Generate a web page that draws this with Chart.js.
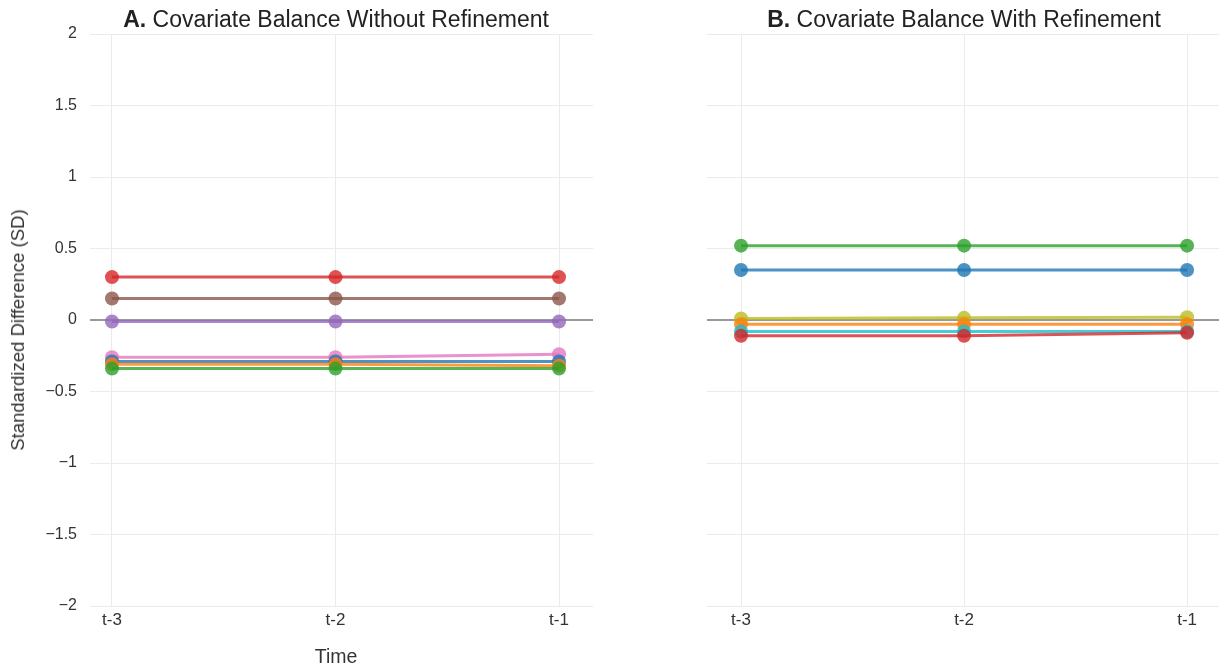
<!DOCTYPE html>
<html>
<head>
<meta charset="utf-8">
<script src="https://cdn.jsdelivr.net/npm/chart.js@4"></script>
<style>
  html, body { margin: 0; padding: 0; background: #fff; }
  body { width: 1219px; height: 669px; position: relative; overflow: hidden;
         font-family: "Liberation Sans", Arial, sans-serif; }
  .panel { position: absolute; top: 0; height: 669px; }
  #wrapA { left: 0; width: 600px; }
  #wrapB { left: 600px; width: 626px; }
  .ptitle { position: absolute; top: 6px; font-size: 23px; color: #222; white-space: nowrap;
            transform: translateX(-50%); line-height: 26px; }
  .ptitle b { font-weight: bold; }
  .xtitle { position: absolute; top: 645px; left: 336px; transform: translateX(-50%);
            font-size: 19.5px; color: #333; line-height: 22px; }
  .ytitle { position: absolute; left: 18px; top: 330px; transform: translate(-50%, -50%) rotate(-90deg);
            font-size: 18.5px; color: #333; line-height: 22px; white-space: nowrap; }
</style>
</head>
<body>
<div class="panel" id="wrapA"><canvas id="chartA" width="600" height="669"></canvas></div>
<div class="panel" id="wrapB"><canvas id="chartB" width="626" height="669"></canvas></div>
<div class="ptitle" style="left:336px"><b>A.</b> Covariate Balance Without Refinement</div>
<div class="ptitle" style="left:964px"><b>B.</b> Covariate Balance With Refinement</div>
<div class="xtitle">Time</div>
<div class="ytitle">Standardized Difference (SD)</div>
<script>
// time periods before treatment
const periods = ['t-3', 't-2', 't-1'];
// y-axis ticks
const yTicks = [-2, -1.5, -1, -0.5, 0, 0.5, 1, 1.5, 2];

// standardized differences, unrefined matched sets
const noRefRed    = [0.30, 0.30, 0.30];
const noRefBrown  = [0.15, 0.15, 0.15];
const noRefPurple = [-0.01, -0.01, -0.01];
const noRefPink   = [-0.26, -0.26, -0.24];
const noRefBlue   = [-0.29, -0.29, -0.29];
const noRefOrange = [-0.31, -0.31, -0.32];
const noRefGreen  = [-0.34, -0.34, -0.34];

// standardized differences, refined matched sets
const refGreen  = [0.52, 0.52, 0.52];
const refBlue   = [0.35, 0.35, 0.35];
const refOlive  = [0.01, 0.015, 0.02];
const refOrange = [-0.03, -0.03, -0.03];
const refCyan   = [-0.08, -0.08, -0.08];
const refRed    = [-0.11, -0.11, -0.09];

const C = {
  blue: 'rgba(31,119,180,0.8)', orange: 'rgba(255,127,14,0.8)', green: 'rgba(44,160,44,0.8)',
  red: 'rgba(214,39,40,0.8)', purple: 'rgba(148,103,189,0.8)', brown: 'rgba(140,86,75,0.8)',
  pink: 'rgba(227,119,194,0.8)', olive: 'rgba(188,189,34,0.8)', cyan: 'rgba(23,190,207,0.8)'
};

function series(vals, color) {
  return {
    data: vals.map((v, i) => ({ x: i, y: v })),
    borderColor: color, backgroundColor: color,
    borderWidth: 3, pointRadius: 7, pointHoverRadius: 7,
    pointBorderWidth: 0, tension: 0
  };
}

// horizontal reference line at zero, drawn beneath the series
const zeroLine = {
  id: 'zeroLine',
  beforeDatasetsDraw(chart) {
    const { ctx, chartArea, scales } = chart;
    const y = scales.y.getPixelForValue(0);
    ctx.save();
    ctx.strokeStyle = '#999';
    ctx.lineWidth = 2;
    ctx.beginPath();
    ctx.moveTo(chartArea.left, y);
    ctx.lineTo(chartArea.right, y);
    ctx.stroke();
    ctx.restore();
  }
};

function fmt(v) {
  const s = String(v);
  return v < 0 ? '\u2212' + s.slice(1) : s;
}

function makeChart(id, datasets, opts) {
  return new Chart(document.getElementById(id), {
    type: 'line',
    data: { datasets },
    plugins: [zeroLine],
    options: {
      responsive: false,
      animation: false,
      events: [],
      layout: { padding: { top: 34, right: 0, bottom: 0, left: 0 } },
      plugins: { legend: { display: false }, tooltip: { enabled: false } },
      scales: {
        x: {
          type: 'linear', min: opts.xMin, max: opts.xMax,
          afterBuildTicks: s => { s.ticks = periods.map((p, i) => ({ value: i })); },
          afterFit: s => { s.height = 63; },
          grid: { color: '#ebebeb', lineWidth: 1, drawTicks: false },
          border: { display: false },
          ticks: {
            callback: v => periods[v], padding: 4, maxRotation: 0,
            color: '#333', font: { family: 'Liberation Sans', size: 17 }
          }
        },
        y: {
          type: 'linear', min: -2, max: 2,
          afterBuildTicks: s => { s.ticks = yTicks.map(v => ({ value: v })); },
          afterFit: s => { s.width = opts.yWidth; },
          grid: { color: '#ebebeb', lineWidth: 1, drawTicks: false },
          border: { display: false },
          ticks: {
            display: opts.showYTicks, callback: v => fmt(v), padding: 13,
            color: '#333', font: { family: 'Liberation Sans', size: 16 }
          }
        }
      }
    }
  });
}

// earlier entries are painted on top
makeChart('chartA', [
  series(noRefGreen, C.green),
  series(noRefOrange, C.orange),
  series(noRefBlue, C.blue),
  series(noRefPink, C.pink),
  series(noRefPurple, C.purple),
  series(noRefBrown, C.brown),
  series(noRefRed, C.red)
], { xMin: -0.0984, xMax: 2.152, yWidth: 90, showYTicks: true });

makeChart('chartB', [
  series(refRed, C.red),
  series(refCyan, C.cyan),
  series(refOrange, C.orange),
  series(refOlive, C.olive),
  series(refBlue, C.blue),
  series(refGreen, C.green)
], { xMin: -0.1525, xMax: 2.143, yWidth: 107, showYTicks: false });
</script>
</body>
</html>
